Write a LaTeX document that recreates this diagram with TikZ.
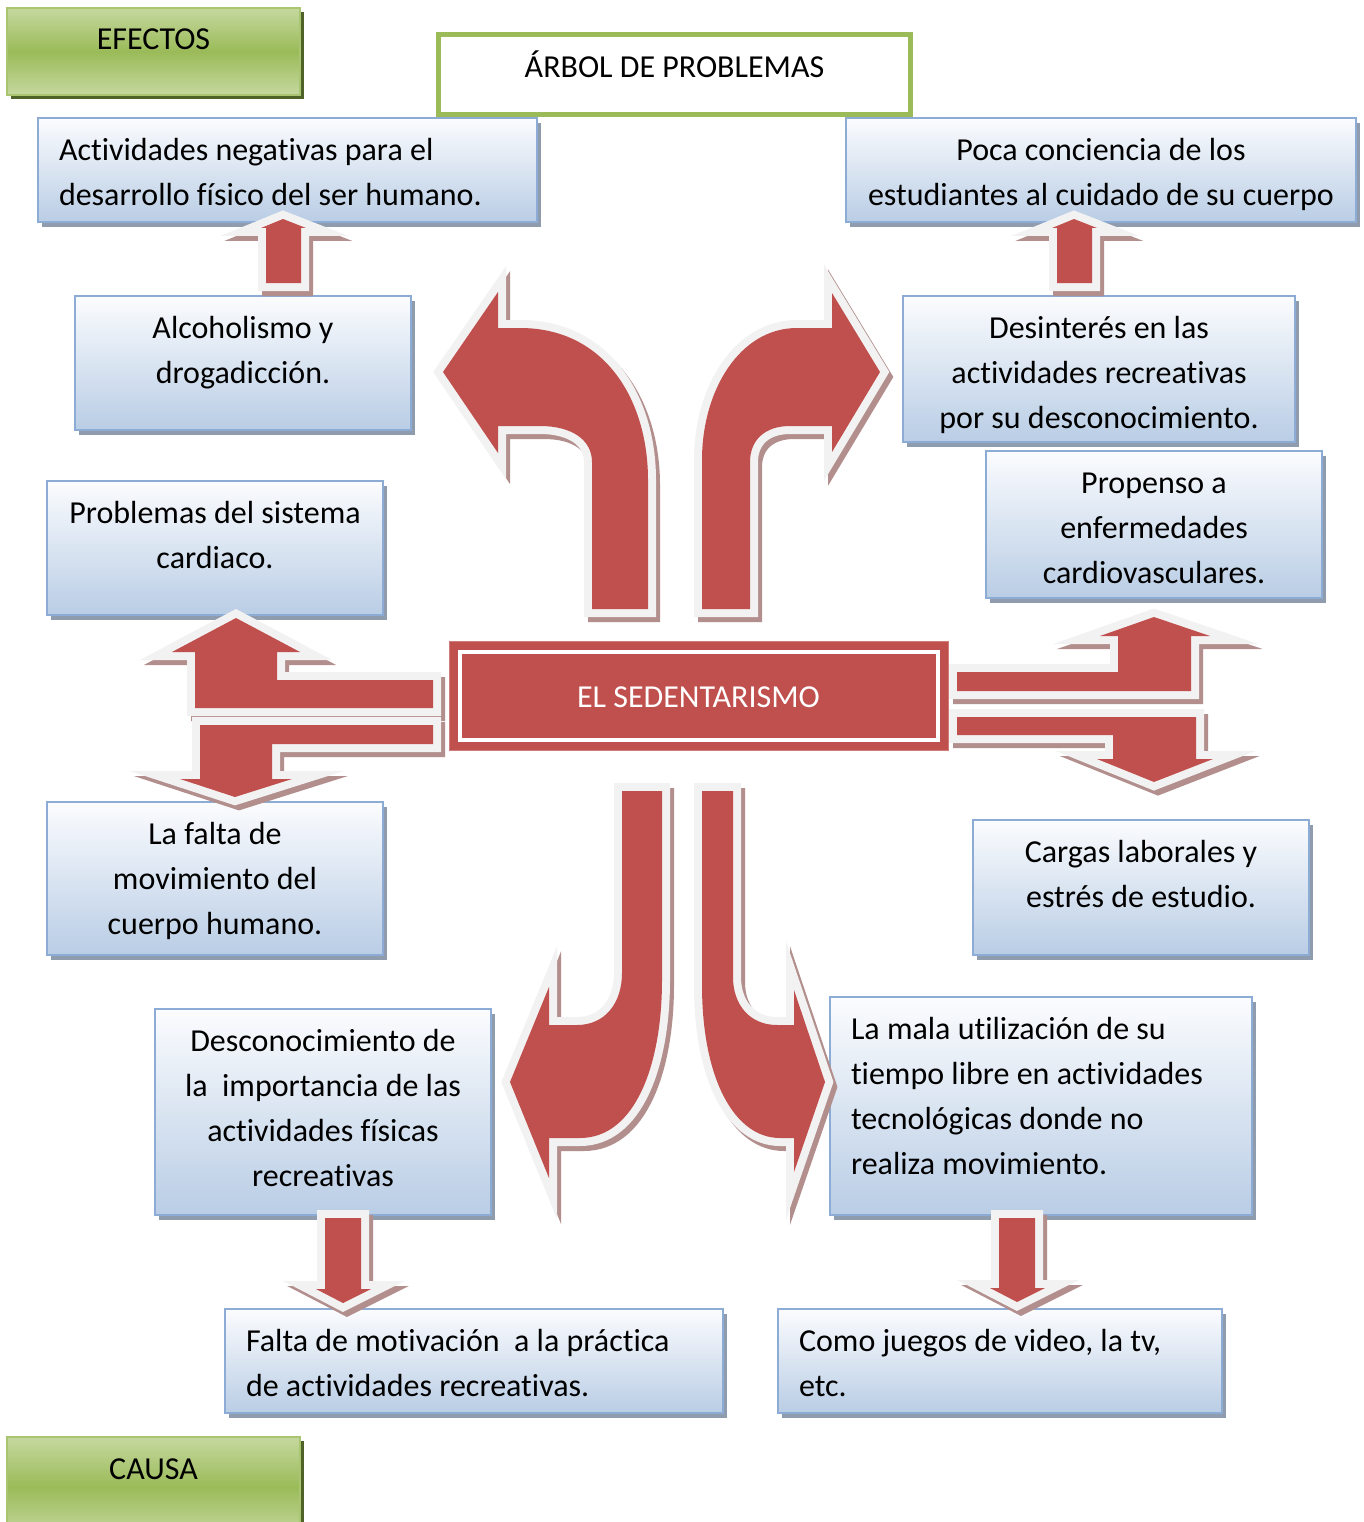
\documentclass[tikz,border=0pt]{standalone}
\usepackage{fontspec}
\setmainfont{Carlito}[Ligatures=NoCommon]
\definecolor{arrowred}{HTML}{C0504D}
\definecolor{arrowline}{HTML}{F2F2F2}
\definecolor{arrowshade}{HTML}{B28E8D}
\definecolor{bluetop}{HTML}{FBFCFE}
\definecolor{bluebot}{HTML}{B9CDE5}
\definecolor{blueline}{HTML}{8CACD6}
\definecolor{blueshade}{HTML}{8F9CAD}
\definecolor{greenlight}{HTML}{C5D89F}
\definecolor{greenmid}{HTML}{9BBB59}
\definecolor{greenline}{HTML}{9BBB59}
\definecolor{greenshade}{HTML}{4F6228}

% plain rectangle placed by its top-left corner and its size
\newcommand\boxat[6]{\node[#1, minimum width=#5, minimum height=#6] (#2) at (#3,#4) {};}

\begin{document}
\begin{tikzpicture}[x=1pt, y=-1pt,
  txt/.style={font=\fontsize{32}{45}\selectfont, inner sep=0pt, outer sep=0pt, anchor=north, align=center},
  txtl/.style={txt, anchor=north west, align=left},
  rect/.style={rectangle, inner sep=0pt, outer sep=0pt, anchor=north west},
  bluebox/.style={rect, draw=blueline, line width=2pt, top color=bluetop, bottom color=bluebot,
    preaction={fill=blueshade, transform canvas={shift={(4,5)}}}},
  greenbox/.style={rect, draw=greenline!85!white, line width=2pt, top color=greenlight, bottom color=greenlight, middle color=greenmid,
    preaction={fill=greenshade, transform canvas={shift={(4,4)}}}},
  blockarrow/.style={fill=arrowred,
    preaction={draw=arrowshade, fill=arrowshade, line width=16pt, line join=miter, miter limit=12, transform canvas={shift={(4,5)}}},
    preaction={draw=arrowline, fill=arrowline, line width=16pt, line join=miter, miter limit=12}}
]
\useasboundingbox (0,0) rectangle (1364,1522);
\fill[white] (0,0) rectangle (1364,1522);

% headings
\boxat{greenbox}{efectos}{7}{8}{293}{87}
\node[txt] (efectosT) at ([yshift=-10.5pt]efectos.north) {\strut EFECTOS};
\boxat{greenbox}{causa}{7}{1437}{293}{100}
\node[txt] (causaT) at ([yshift=-10.5pt]causa.north) {\strut CAUSA};
\boxat{rect, draw=greenline, line width=5pt, fill=white}{title}{438.5}{34.5}{472}{80}
\node[txt] (titleT) at ([yshift=-12pt]title.north) {\strut ÁRBOL DE PROBLEMAS};

% effects and causes
\boxat{bluebox}{b1}{38}{118}{499}{104}
\node[txtl] (t1) at ([xshift=21pt, yshift=-11.5pt]b1.north west) {\strut Actividades negativas para el\\desarrollo físico del ser humano.};
\boxat{bluebox}{b2}{846}{118}{510}{104}
\node[txt] (t2) at ([yshift=-11.5pt]b2.north) {\strut Poca conciencia de los\\estudiantes al cuidado de su cuerpo};
\boxat{bluebox}{b3}{75}{296}{336}{134}
\node[txt] (t3) at ([yshift=-10.5pt]b3.north) {\strut Alcoholismo y\\drogadicción.};
\boxat{bluebox}{b4}{903}{296}{392}{146}
\node[txt] (t4) at ([yshift=-10.5pt]b4.north) {\strut Desinterés en las\\actividades recreativas\\por su desconocimiento.};
\boxat{bluebox}{b5}{47}{481}{336}{134}
\node[txt] (t5) at ([yshift=-10.5pt]b5.north) {\strut Problemas del sistema\\cardiaco.};
\boxat{bluebox}{b6}{986}{451}{336}{147}
\node[txt] (t6) at ([yshift=-10.5pt]b6.north) {\strut Propenso a\\enfermedades\\cardiovasculares.};
\boxat{bluebox}{b7}{47}{802}{336}{153}
\node[txt] (t7) at ([yshift=-10.5pt]b7.north) {\strut La falta de\\movimiento del\\cuerpo humano.};
\boxat{bluebox}{b8}{973}{820}{336}{135}
\node[txt] (t8) at ([yshift=-10.5pt]b8.north) {\strut Cargas laborales y\\estrés de estudio.};
\boxat{bluebox}{b9}{155}{1009}{336}{206}
\node[txt] (t9) at ([yshift=-10.5pt]b9.north) {\strut Desconocimiento de\\la\ \ importancia de las\\actividades físicas\\recreativas};
\boxat{bluebox}{b10}{830}{997}{422}{218}
\node[txtl] (t10) at ([xshift=21pt, yshift=-10.5pt]b10.north west) {\strut La mala utilización de su\\tiempo libre en actividades\\tecnológicas donde no\\realiza movimiento.};
\boxat{bluebox}{b11}{225}{1309}{498}{104}
\node[txtl] (t11) at ([xshift=21pt, yshift=-10.5pt]b11.north west) {\strut Falta de motivación\ \ a la práctica\\de actividades recreativas.};
\boxat{bluebox}{b12}{778}{1309}{444}{104}
\node[txtl] (t12) at ([xshift=21pt, yshift=-10.5pt]b12.north west) {\strut Como juegos de video, la tv,\\etc.};

% central problem
\boxat{rect, fill=arrowred, draw=arrowred!75!white, line width=1pt}{core}{449}{641}{499}{109}
\node[rect, anchor=center, draw=white, line width=4pt, minimum width=478, minimum height=88] (coreframe) at (core.center) {};
\node[font=\fontsize{32}{45}\selectfont, text=white, inner sep=0pt, anchor=base] (coreT) at ([yshift=-11.5pt]core.center) {EL SEDENTARISMO};

% curved block arrows leaving the central problem
\path[blockarrow] (592,609) -- (592,462) .. controls (592,440) and (572,426) .. (540,426) -- (498,426) -- (498,453)
  -- (443,372) -- (498,292) -- (498,328) -- (520,328) .. controls (605,328) and (648,400) .. (648,480) -- (648,609) -- cycle;
\path[blockarrow] (750,609) -- (750,462) .. controls (750,440) and (765,426) .. (790,426) -- (832,426) -- (832,452)
  -- (880,372) -- (832,293) -- (832,328) -- (797,328) .. controls (740,328) and (702,390) .. (702,460) -- (702,609) -- cycle;
\path[blockarrow] (622,791) -- (662,791) -- (662,980) .. controls (662,1065) and (635,1138) .. (580,1138) -- (549,1138)
  -- (549,1178) -- (510,1082) -- (549,987) -- (549,1025) -- (577,1025) .. controls (605,1025) and (622,1003) .. (622,973) -- cycle;
\path[blockarrow] (702,791) -- (733,791) -- (733,977) .. controls (733,1005) and (750,1025) .. (777,1025) -- (794,1025)
  -- (794,990) -- (825,1082) -- (794,1172) -- (794,1138) -- (780,1138) .. controls (735,1138) and (702,1080) .. (702,985) -- cycle;

% split block arrows at the sides
\path[blockarrow] (433,680) -- (277,680) -- (277,652) -- (300,652) -- (236,618) -- (172,652) -- (195,652) -- (195,708) -- (433,708) -- cycle;
\path[blockarrow] (433,725) -- (433,744) -- (272,744) -- (272,779) -- (292,779) -- (235,797) -- (180,779) -- (200,779) -- (200,725) -- cycle;
\path[blockarrow] (957,672) -- (1118,672) -- (1118,636) -- (1100,636) -- (1154,617) -- (1210,636) -- (1191,636) -- (1191,691) -- (957,691) -- cycle;
\path[blockarrow] (957,717) -- (1196,717) -- (1196,759) -- (1213,759) -- (1154,782) -- (1097,759) -- (1113,759) -- (1113,735) -- (957,735) -- cycle;

% short straight block arrows between boxes
\path[blockarrow] (266,283) -- (266,228) -- (261,228) -- (283,219) -- (306,228) -- (301,228) -- (301,283) -- cycle;
\path[blockarrow] (1057,283) -- (1057,228) -- (1052,228) -- (1074,219) -- (1097,228) -- (1092,228) -- (1092,283) -- cycle;
\path[blockarrow] (325,1218) -- (361,1218) -- (361,1289) -- (371,1289) -- (343,1303) -- (316,1289) -- (325,1289) -- cycle;
\path[blockarrow] (999,1218) -- (1035,1218) -- (1035,1288) -- (1045,1288) -- (1017,1302) -- (990,1288) -- (999,1288) -- cycle;
\end{tikzpicture}
\end{document}
